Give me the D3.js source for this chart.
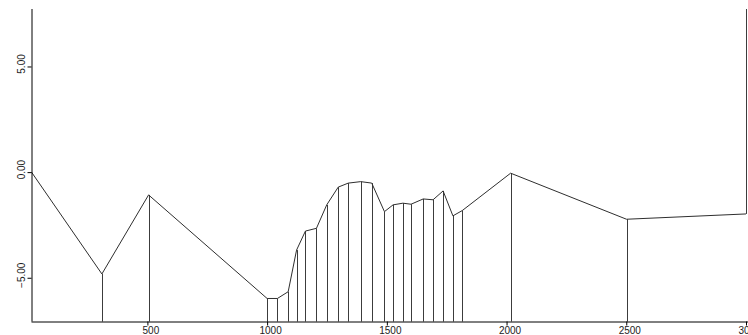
<!DOCTYPE html>
<html>
<head>
<meta charset="utf-8">
<script src="https://cdn.jsdelivr.net/npm/d3@7"></script>
<style>
  html, body { margin: 0; padding: 0; background: #fff; }
  svg { display: block; }
  text { font-family: "Liberation Sans", Arial, sans-serif; font-size: 10px; fill: #222; }
</style>
</head>
<body>
<svg id="chart" width="748" height="335"></svg>
<script>
// Sampled profile: position along the x axis and measured value
const positions = [16, 310, 505, 1000, 1043, 1088, 1123, 1160, 1206, 1249, 1297, 1339, 1391, 1437,
                   1490, 1526, 1567, 1601, 1652, 1693, 1735, 1776, 1815, 2017, 2501, 3000];
const values = [0.00, -4.82, -1.08, -5.98, -5.98, -5.66, -3.69, -2.79, -2.66, -1.55, -0.71, -0.52, -0.45, -0.52,
                -1.87, -1.55, -1.47, -1.52, -1.27, -1.31, -0.89, -2.07, -1.82, -0.05, -2.23, -1.98];
const xTicks = [500, 1000, 1500, 2000, 2500, 3000];
const yTicks = [-5, 0, 5];
const xDomain = [16, 3000];
const yDomain = [-7.07, 7.72];

const svg = d3.select("#chart");

const x = d3.scaleLinear().domain(xDomain).range([31.5, 746]);
const y = d3.scaleLinear().domain(yDomain).range([321.5, 9]);

const points = positions.map((p, i) => ({ x: p, v: values[i] }));
const baseY = y(yDomain[0]);
const topY = y(yDomain[1]);

// Drop lines from each sample to the baseline
svg.append("g")
  .selectAll("line")
  .data(points.slice(1, -1))
  .join("line")
  .attr("x1", d => Math.round(x(d.x)) + 0.5)
  .attr("x2", d => Math.round(x(d.x)) + 0.5)
  .attr("y1", d => y(d.v))
  .attr("y2", baseY)
  .attr("stroke", "#3c3c3c")
  .attr("stroke-width", 1);

// Last sample marker line runs up to the top edge
const last = points[points.length - 1];
svg.append("line")
  .attr("x1", Math.round(x(last.x)) + 0.5)
  .attr("x2", Math.round(x(last.x)) + 0.5)
  .attr("y1", y(last.v))
  .attr("y2", topY)
  .attr("stroke", "#3c3c3c")
  .attr("stroke-width", 1);

// Profile polyline
svg.append("path")
  .datum(points)
  .attr("fill", "none")
  .attr("stroke", "#2e2e2e")
  .attr("stroke-width", 1)
  .attr("d", d3.line().x(d => x(d.x)).y(d => y(d.v)));

// X axis
const xAxis = svg.append("g")
  .attr("transform", `translate(0,${baseY})`)
  .call(d3.axisBottom(x).tickValues(xTicks).tickSize(4).tickSizeOuter(0).tickFormat(d3.format("d")));
xAxis.select(".domain").attr("stroke", "#000").attr("d", `M${x(xDomain[0])},0.5H748`);
xAxis.selectAll(".tick line").attr("stroke", "#000");
xAxis.selectAll(".tick text")
  .attr("y", 5)
  .attr("dx", 3)
  .attr("fill", "#222")
  .style("font-family", "\"Liberation Sans\", Arial, sans-serif")
  .style("font-size", "10px");

// Y axis
const yAxis = svg.append("g")
  .attr("transform", `translate(${x(xDomain[0])},0)`)
  .call(d3.axisLeft(y).tickValues(yTicks).tickSize(4).tickSizeOuter(0).tickFormat(d3.format(".2f")));
yAxis.select(".domain").attr("stroke", "#000").attr("d", `M0.5,${topY}V${baseY}`);
yAxis.selectAll(".tick line").attr("stroke", "#000");
yAxis.selectAll(".tick text")
  .attr("x", null)
  .attr("dy", null)
  .attr("text-anchor", "middle")
  .attr("transform", "translate(-7,-3) rotate(-90)")
  .attr("fill", "#222")
  .style("font-family", "\"Liberation Sans\", Arial, sans-serif")
  .style("font-size", "10px");
</script>
</body>
</html>
